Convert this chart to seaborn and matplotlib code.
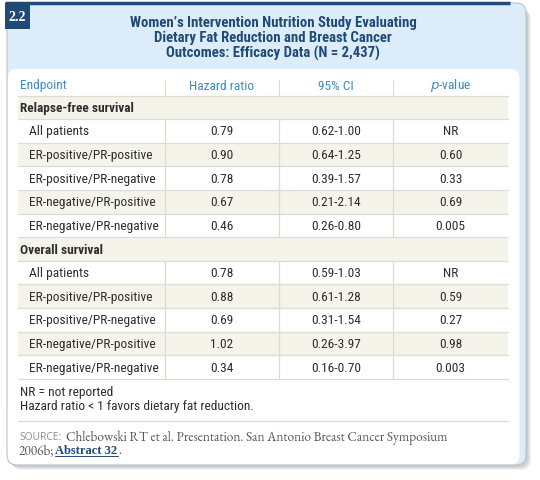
import matplotlib
matplotlib.use("Agg")
import matplotlib.pyplot as plt
import seaborn as sns
from matplotlib.patches import Rectangle, FancyBboxPatch

sns.set_theme(style="white")
SANS = ['Roboto Condensed', 'DejaVu Sans']
SERIF = ['EB Garamond', 'Liberation Serif', 'DejaVu Serif']
SERIF_B = ['Liberation Serif', 'DejaVu Serif']
plt.rcParams['font.family'] = SANS

# ---------------- data ----------------
title_lines = ["Women\u2019s Intervention Nutrition Study Evaluating",
               "Dietary Fat Reduction and Breast Cancer",
               "Outcomes: Efficacy Data (N = 2,437)"]
columns = ["Endpoint", "Hazard ratio", "95% CI", "p-value"]
sections = ["Relapse-free survival", "Overall survival"]
subgroups = ["All patients", "ER-positive/PR-positive", "ER-positive/PR-negative",
             "ER-negative/PR-positive", "ER-negative/PR-negative"]
hr_rfs = ["0.79", "0.90", "0.78", "0.67", "0.46"]
ci_rfs = ["0.62-1.00", "0.64-1.25", "0.39-1.57", "0.21-2.14", "0.26-0.80"]
p_rfs = ["NR", "0.60", "0.33", "0.69", "0.005"]
hr_os = ["0.78", "0.88", "0.69", "1.02", "0.34"]
ci_os = ["0.59-1.03", "0.61-1.28", "0.31-1.54", "0.26-3.97", "0.16-0.70"]
p_os = ["NR", "0.59", "0.27", "0.98", "0.003"]
footnotes = ["NR = not reported", "Hazard ratio < 1 favors dietary fat reduction."]
source_label = "SOURCE:"
source_text = "Chlebowski RT et al. Presentation. San Antonio Breast Cancer Symposium"
source_text2 = "2006b;"
source_link = "Abstract 32"
label = "2.2"

# ---------------- colours ----------------
NAVY = "#1f4a75"
BAND = "#dcedf9"
HEAD = "#3a8dc6"
BEIGE = "#f4f4ea"
GRID = "#dcdcd4"
TXT = "#2e2e2e"
FS = 9.6

fig = plt.figure(figsize=(5.4, 4.81), dpi=100)
ax = fig.add_axes([0, 0, 1, 1])
ax.set_xlim(0, 540)
ax.set_ylim(481, 0)
ax.axis("off")

# shadow
for i in range(4):
    ax.add_patch(FancyBboxPatch((9 + i, 8 + i), 519, 460, boxstyle="round,pad=0,rounding_size=10",
                                fc="#000000", ec="none", alpha=0.05, zorder=0))
# card
ax.add_patch(FancyBboxPatch((7, 4), 519, 462, boxstyle="round,pad=0,rounding_size=10",
                            fc=BAND, ec="none", zorder=1))
# white inner panel
ax.add_patch(FancyBboxPatch((7.5, 70), 512, 395.5, boxstyle="round,pad=0,rounding_size=9",
                            fc="white", ec="none", zorder=2))
ax.add_patch(FancyBboxPatch((7.5, 400), 30, 65.5, boxstyle="round,pad=0,rounding_size=10",
                            fc="white", ec="none", zorder=2))
# card border on top
ax.add_patch(FancyBboxPatch((7, 4), 519, 462, boxstyle="round,pad=0,rounding_size=10",
                            fc="none", ec="#b8c4cf", lw=0.8, zorder=7))
# top navy bar
ax.plot([5, 510], [4, 4], color=NAVY, lw=2.5, solid_capstyle="butt", zorder=8)
# label box
ax.add_patch(Rectangle((5, 4), 25, 26, fc=NAVY, ec="none", zorder=8))
ax.text(17.5, 17.5, label, color="white", fontsize=10, fontweight="bold",
        family=SERIF_B, ha="center", va="center", zorder=9)

# title
for i, t in enumerate(title_lines):
    ax.text(273, 23 + 15 * i, t, color=NAVY, fontsize=10.6, fontweight="bold",
            ha="center", va="center", zorder=6)

# table geometry
xl, xr = 18, 508
cols_x = [18, 165, 279, 393, 508]
centers = [(cols_x[i] + cols_x[i + 1]) / 2 for i in range(4)]
top = 96.5
rh = 23.62

# header
ax.text(20, 86, columns[0], color=HEAD, fontsize=FS, ha="left", va="center", zorder=6)
for i in (1, 2):
    ax.text(centers[i], 86, columns[i], color=HEAD, fontsize=FS, ha="center", va="center", zorder=6)
ax.text(centers[3], 86, r"$\it{p}$" + "-value", color=HEAD, fontsize=FS, ha="center", va="center", zorder=6)
for x in cols_x[1:4]:
    ax.plot([x, x], [81, top], color=GRID, lw=0.8, zorder=5)

rows = []
for s, hr, ci, pv in [(sections[0], hr_rfs, ci_rfs, p_rfs), (sections[1], hr_os, ci_os, p_os)]:
    rows.append(("section", s, None, None, None))
    for g, h, c, p in zip(subgroups, hr, ci, pv):
        rows.append(("row", g, h, c, p))

for k, (kind, name, h, c, p) in enumerate(rows):
    y0 = top + k * rh
    yc = y0 + rh / 2
    if k % 2 == 0:
        ax.add_patch(Rectangle((xl, y0), xr - xl, rh, fc=BEIGE, ec="none", zorder=3))
    ax.plot([xl, xr], [y0, y0], color=GRID, lw=0.9, zorder=5)
    if kind == "section":
        ax.text(20, yc, name, color=TXT, fontsize=FS, fontweight="bold", ha="left", va="center", zorder=6)
    else:
        ax.text(29, yc, name, color=TXT, fontsize=FS, ha="left", va="center", zorder=6)
        for i, v in zip((1, 2, 3), (h, c, p)):
            ax.text(centers[i], yc, v, color=TXT, fontsize=FS, ha="center", va="center", zorder=6)
        for x in cols_x[1:4]:
            ax.plot([x, x], [y0, y0 + rh], color=GRID, lw=0.9, zorder=5)
bottom = top + len(rows) * rh
ax.plot([xl, xr], [bottom, bottom], color=GRID, lw=0.9, zorder=5)

# footnotes
ax.text(20, 393, footnotes[0], color=TXT, fontsize=FS, ha="left", va="center", zorder=6)
ax.text(20, 407, footnotes[1], color=TXT, fontsize=FS, ha="left", va="center", zorder=6)
ax.plot([xl, xr], [422, 422], color=GRID, lw=0.9, zorder=5)

# source (chained text pieces)
fig.canvas.draw()
renderer = fig.canvas.get_renderer()
inv = ax.transData.inverted()


def right_edge(txt):
    bb = txt.get_window_extent(renderer=renderer)
    return inv.transform((bb.x1, bb.y0))[0]


ax.text(19, 438, source_label, color="#8f8f8f", fontsize=7.4, family=['Open Sans', 'DejaVu Sans'],
        ha="left", va="center", zorder=6)
ax.text(66, 438, source_text, color="#555555", fontsize=9.6, family=SERIF,
        ha="left", va="center", zorder=6)
t1 = ax.text(19, 451, source_text2, color="#555555", fontsize=9.6, family=SERIF,
             ha="left", va="center", zorder=6)
x1 = right_edge(t1) + 1
t2 = ax.text(x1, 451, source_link, color=NAVY, fontsize=9.0, family=SERIF_B, fontweight="bold",
             ha="left", va="center", zorder=6)
x2 = right_edge(t2)
ax.plot([x1, x2], [456.5, 456.5], color=NAVY, lw=0.7, zorder=6)
ax.text(x2 + 1, 451, ".", color="#555555", fontsize=9.6, family=SERIF,
        ha="left", va="center", zorder=6)

fig.savefig("out.png", dpi=100)
